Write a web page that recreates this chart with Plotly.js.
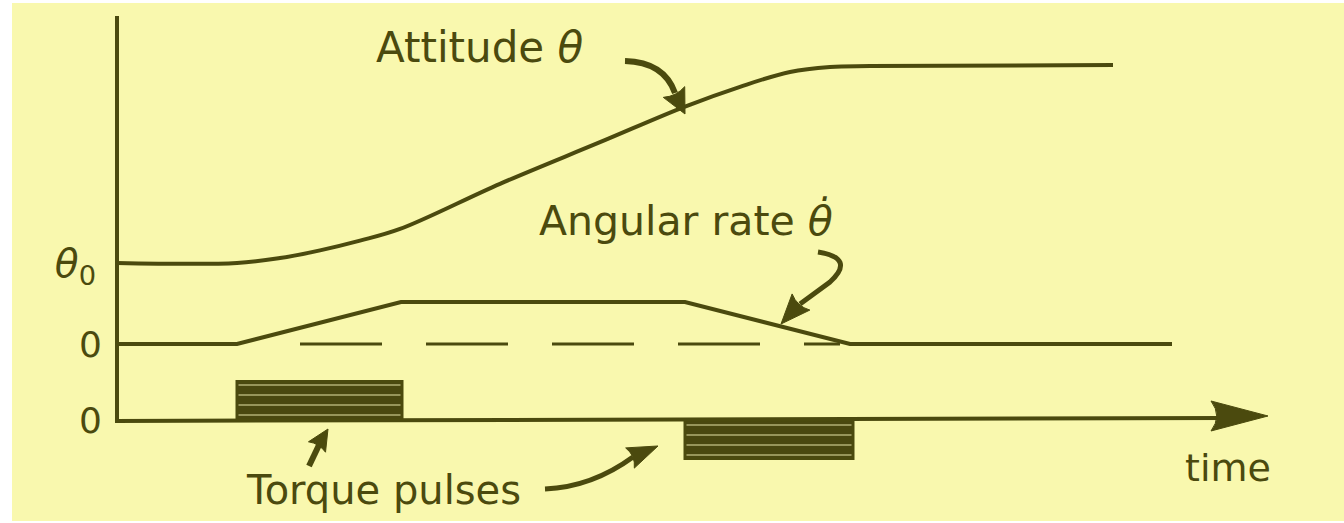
<!DOCTYPE html>
<html>
<head>
<meta charset="utf-8">
<script src="https://cdn.plot.ly/plotly-3.0.1.min.js"></script>
<style>html,body{margin:0;padding:0;background:#ffffff;}#chart{width:1344px;height:523px;}</style>
</head>
<body>
<div id="chart"></div>
<script>
// ---- data (time in arbitrary units, values normalised) ----
const attitudeTime  = [0, 1.2, 1.63, 2.03, 2.43, 2.83, 3.83, 4.83, 5.68, 6.23, 6.73, 7.13, 7.53, 9.96];
const attitudeValue = [0, 0, 0.025, 0.064, 0.113, 0.172, 0.40, 0.61, 0.79, 0.89, 0.965, 0.99, 0.995, 1.0];
const rateTime  = [0, 1.2, 2.84, 5.68, 7.33, 10.55];
const rateValue = [0, 0, 1, 1, 0, 0];
const rateZeroTime = [1.83, 7.23];
const rateZeroValue = [0, 0];
const pulseStart = [1.2, 5.68];
const pulseEnd   = [2.85, 7.36];
const pulseTorque = [1, -1];
const tickAttitude = ['<i>θ</i><sub>0</sub>'];
const tickRate = ['0'];
const tickTorque = ['0'];

// ---- layout helpers ----
const W = 1344, H = 523, L = 117;
const INK = '#4b4a0e', BG = '#f9f8ae';
const FONT = 'DejaVu Sans';
function fx(px){ return (px - L) / (W - L); }
function fy(py){ return 1 - py / H; }
function P(px, py){ return fx(px).toFixed(5) + ',' + fy(py).toFixed(5); }
function axisRange(zeroPx, unitPx){ return [-(H - zeroPx) / unitPx, zeroPx / unitPx]; }
function head(tx, ty, bx, by, hw){
  const dx = tx - bx, dy = ty - by, n = Math.hypot(dx, dy);
  const px = -dy / n * hw, py = dx / n * hw;
  const cx = bx + dx * 0.2, cy = by + dy * 0.2;
  return {type:'path', xref:'paper', yref:'paper', fillcolor:INK, line:{color:INK, width:1},
    path:'M' + P(tx, ty) + ' L' + P(bx + px, by + py) + ' Q' + P(cx, cy) + ' ' + P(bx - px, by - py) + ' Z'};
}
function curve(d, w){
  return {type:'path', xref:'paper', yref:'paper', line:{color:INK, width:w}, path:d};
}
function label(px, py, text, size){
  return {xref:'paper', yref:'paper', x:fx(px), y:fy(py), xanchor:'center', yanchor:'middle',
    text:text, showarrow:false, font:{family:FONT, size:size, color:INK}};
}

const traces = [
  {x: attitudeTime, y: attitudeValue, type:'scatter', mode:'lines', xaxis:'x', yaxis:'y',
   line:{color:INK, width:4, shape:'spline', smoothing:1}, hoverinfo:'skip'},
  {x: rateTime, y: rateValue, type:'scatter', mode:'lines', xaxis:'x', yaxis:'y2',
   line:{color:INK, width:4}, hoverinfo:'skip'},
  {x: rateZeroTime, y: rateZeroValue, type:'scatter', mode:'lines', xaxis:'x', yaxis:'y2',
   line:{color:INK, width:3, dash:'82px,44px'}, hoverinfo:'skip'},
  {x: pulseStart.map((s, i) => (s + pulseEnd[i]) / 2), y: pulseTorque,
   width: pulseStart.map((s, i) => pulseEnd[i] - s), base: 0,
   type:'bar', xaxis:'x', yaxis:'y3', hoverinfo:'skip',
   marker:{color:'#4a480f', line:{color:INK, width:3},
     pattern:{shape:'-', bgcolor:'#4a480f', fgcolor:'#a09e62', fillmode:'replace', size:10, solidity:0.18}}}
];

const yBase = {showgrid:false, zeroline:false, showline:false, ticks:'', tickvals:[0],
  ticklabelstandoff: 14, tickfont:{family:FONT, size:36, color:INK}, fixedrange:true};

const layout = {
  width: W, height: H,
  margin:{l:L, r:0, t:0, b:0, pad:0},
  paper_bgcolor:'#ffffff', plot_bgcolor:'rgba(0,0,0,0)',
  showlegend:false,
  barmode:'overlay',
  xaxis:{range:[0, (W - L) / 100], showgrid:false, zeroline:false, showline:false,
         showticklabels:false, ticks:'', fixedrange:true},
  yaxis:Object.assign({}, yBase, {range:axisRange(263, 198), ticktext:tickAttitude,
         tickfont:{family:FONT, size:39, color:INK}, ticklabelstandoff:20}),
  yaxis2:Object.assign({}, yBase, {range:axisRange(344, 42), ticktext:tickRate, overlaying:'y'}),
  yaxis3:Object.assign({}, yBase, {range:axisRange(420, 38.5), ticktext:tickTorque, overlaying:'y'}),
  shapes:[
    {type:'rect', xref:'paper', yref:'paper', x0:fx(12), x1:fx(1344), y0:fy(521), y1:fy(3),
     fillcolor:BG, line:{width:0}, layer:'below'},
    {type:'line', xref:'paper', yref:'paper', x0:fx(117), x1:fx(117), y0:fy(423), y1:fy(16),
     line:{color:INK, width:4}},
    {type:'line', xref:'paper', yref:'paper', x0:fx(115), x1:fx(1225), y0:fy(421), y1:fy(418),
     line:{color:INK, width:4}},
    head(1268, 416, 1211, 416, 15),
    curve('M' + P(625, 61) + ' Q' + P(664, 62) + ' ' + P(675, 93), 6),
    head(685, 114, 674, 92, 12),
    curve('M' + P(818, 252) + ' Q' + P(856, 258) + ' ' + P(830, 282) + ' L' + P(800, 304), 5),
    head(781, 324, 801, 302, 12),
    curve('M' + P(309, 466) + ' L' + P(319, 445), 6),
    head(328, 429, 317, 447, 10),
    curve('M' + P(545, 489) + ' Q' + P(592, 487) + ' ' + P(633, 457), 5),
    head(658, 446, 630, 458, 11)
  ],
  annotations:[
    label(479, 48, 'Attitude <i>θ</i>', 42),
    label(686, 220, 'Angular rate <i>θ̇</i>', 41),
    label(383, 490, 'Torque pulses', 40),
    label(1228, 468, 'time', 38)
  ]
};

Plotly.newPlot('chart', traces, layout, {displayModeBar:false, staticPlot:true});
</script>
</body>
</html>
